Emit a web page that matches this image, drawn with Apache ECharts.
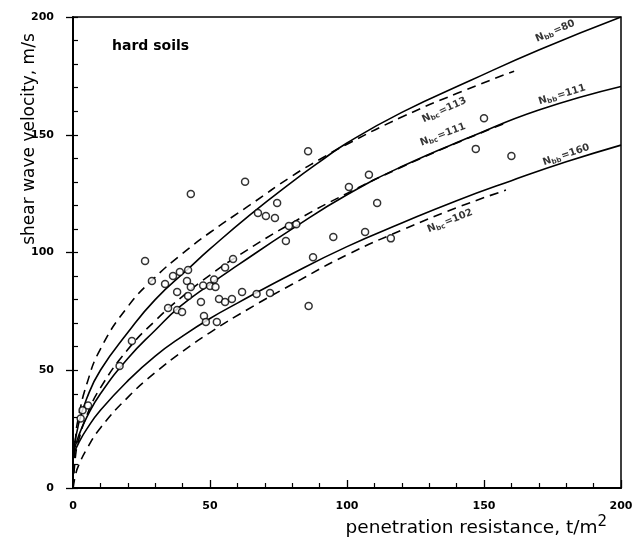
<!DOCTYPE html>
<html>
<head>
<meta charset="utf-8">
<script src="https://cdn.jsdelivr.net/npm/echarts@6/dist/echarts.min.js"></script>
<style>
  html, body { margin: 0; padding: 0; background: #fff; }
  #chart { width: 644px; height: 540px; }
</style>
</head>
<body>
<div id="chart"></div>
<script>
// Penetration resistance (t/m2) and shear wave velocity (m/s) along each curve
const qBb80  = [0, 2, 5, 10, 20, 30, 42, 50, 64.6, 80, 90, 100, 120, 145, 170, 200];
const vBb80  = [14, 27, 38, 50, 66, 80, 93, 101.5, 116, 130, 138.5, 146.5, 159.5, 173, 186, 200];
const qBb111 = [0, 2, 5, 10, 20, 30, 39, 50, 60, 80, 100, 120, 145, 170, 200];
const vBb111 = [14, 22, 30, 40, 55, 67, 77, 86.5, 94.5, 110, 124.5, 136.5, 149, 160.5, 170.5];
const qBb160 = [0, 2, 5, 10, 20, 30, 40, 50, 60, 80, 100, 120, 140, 160, 180, 200];
const vBb160 = [14, 19, 25, 33, 45.5, 56, 64.5, 72, 78.5, 91, 102.5, 112.5, 122, 130.5, 138.5, 145.6];

const qBc113 = [0, 1, 2, 5, 10, 20, 30, 39.6, 50, 64.6, 80, 90, 100, 120, 140, 161];
const vBc113 = [0, 22, 30, 44, 59, 77, 89.5, 99.2, 108.5, 120.2, 132.5, 139.5, 146, 157.5, 167.5, 177];
const qBc111 = [0, 1, 2, 5, 10, 20, 30, 40, 50, 60, 80, 100, 120, 140, 157];
const vBc111 = [0, 14.5, 20, 30.7, 42.5, 58.8, 71, 81.4, 90.4, 98.4, 112.6, 125.1, 136.3, 146.5, 154.6];
const qBc102 = [0, 1, 2, 5, 10, 20, 30, 40, 50, 63.4, 80, 100, 120, 140, 158];
const vBc102 = [0, 6, 9.5, 16.5, 25.5, 38.5, 49, 58, 66, 75.6, 86.5, 99, 109.5, 119, 126.5];

// Measured sites
const qObs = [21.5, 17, 3.5, 5.5, 2.8,
  26.3, 28.8, 33.6, 36.5, 39, 42, 41.6, 38, 43, 42, 46.7, 47.5, 50, 52, 51.5, 55.5, 58.4, 61.7, 53.3, 55.5, 58,
  34.7, 38, 39.8, 47.8, 48.5, 52.5,
  62.8, 43, 74.5, 67.5, 70.4, 73.7, 78.8, 81.5, 77.7, 67, 71.9, 86,
  85.8, 150, 147, 160, 100.7, 108, 111, 95, 106.6, 116, 87.6];
const vObs = [62.4, 51.8, 33, 35, 29.5,
  96.4, 87.9, 86.6, 90, 91.7, 92.6, 87.9, 83.2, 85.4, 81.5, 79, 86, 85.8, 85.4, 88.5, 93.6, 97.2, 83.2, 80.3, 79, 80.3,
  76.4, 75.6, 74.7, 73, 70.5, 70.5,
  130, 124.8, 121, 116.8, 115.5, 114.7, 111.3, 112, 104.9, 82.4, 82.8, 77.3,
  143, 157, 144, 141, 127.8, 133, 121, 106.6, 108.7, 106, 98];

// Curve annotations: N value, subscript, anchor (q, v)
const labelN   = ['80', '111', '160', '113', '111', '102'];
const labelSub = ['bb', 'bb', 'bb', 'bc', 'bc', 'bc'];
const labelQ   = [176, 178.5, 180, 135.5, 135, 137.6];
const labelV   = [194, 167, 141.4, 160.5, 150, 113.4];

// Axis ticks
const xTicks = [0, 50, 100, 150, 200];
const yTicks = [0, 50, 100, 150, 200];

const labelAngle = [23, 17, 19, 25, 21, 22];

const zip = (xs, ys) => xs.map((x, i) => [x, ys[i]]);

const chart = echarts.init(document.getElementById('chart'), null, { renderer: 'canvas' });

const solidStyle = { color: '#000', width: 1.6, type: 'solid' };
const dashStyle  = { color: '#000', width: 1.6, type: [9, 6] };

function curve(name, data, style) {
  return {
    name, type: 'line', data, smooth: 0.5,
    showSymbol: false, symbol: 'none', silent: true,
    lineStyle: style, z: 3
  };
}

const tickFont = { fontFamily: 'DejaVu Sans', fontWeight: 'bold', fontSize: 11, color: '#000' };

chart.setOption({
  animation: false,
  backgroundColor: '#fff',
  grid: {
    left: 73, top: 17, width: 548, height: 471,
    show: true, borderColor: '#000', borderWidth: 1.5, backgroundColor: 'transparent'
  },
  xAxis: {
    type: 'value', min: xTicks[0], max: xTicks[xTicks.length - 1], interval: 50,
    axisLine: { show: true, onZero: false, lineStyle: { color: '#000', width: 2 } },
    axisTick: { show: true, inside: true, length: 8, lineStyle: { color: '#000', width: 1.3 } },
    minorTick: { show: true, splitNumber: 5, length: 5, lineStyle: { color: '#000', width: 1.2 } },
    splitLine: { show: false },
    axisLabel: Object.assign({ margin: 13 }, tickFont)
  },
  yAxis: [
    {
      type: 'value', min: yTicks[0], max: yTicks[yTicks.length - 1], interval: 50,
      axisLine: { show: true, onZero: false, lineStyle: { color: '#000', width: 2 } },
      axisTick: { show: true, inside: false, length: 7, lineStyle: { color: '#000', width: 1.3 } },
      splitLine: { show: false },
      axisLabel: Object.assign({ margin: 19 }, tickFont)
    },
    {
      type: 'value', min: 0, max: 200, interval: 10, position: 'left',
      axisLine: { show: false },
      axisTick: { show: true, inside: true, length: 5, lineStyle: { color: '#000', width: 1.2 } },
      splitLine: { show: false },
      axisLabel: { show: false }
    }
  ],
  series: [
    curve('Nbb=80',  zip(qBb80, vBb80),   solidStyle),
    curve('Nbb=111', zip(qBb111, vBb111), solidStyle),
    curve('Nbb=160', zip(qBb160, vBb160), solidStyle),
    curve('Nbc=113', zip(qBc113, vBc113), dashStyle),
    curve('Nbc=111', zip(qBc111, vBc111), dashStyle),
    curve('Nbc=102', zip(qBc102, vBc102), dashStyle),
    {
      name: 'sites', type: 'scatter', data: zip(qObs, vObs),
      symbol: 'circle', symbolSize: 7, silent: true, z: 4,
      itemStyle: { color: '#fff', borderColor: '#000', borderWidth: 1.5 }
    },
    {
      name: 'curve labels', type: 'scatter', symbolSize: 0, silent: true, z: 5,
      data: labelQ.map((q, i) => ({
        value: [q, labelV[i]],
        label: {
          show: true, position: 'inside', rotate: labelAngle[i],
          formatter: '{n|N}{s|' + labelSub[i] + '}{n|=' + labelN[i] + '}',
          rich: {
            n: { fontFamily: 'DejaVu Sans', fontWeight: 'bold', fontSize: 10, color: '#000' },
            s: { fontFamily: 'DejaVu Sans', fontWeight: 'bold', fontSize: 7, color: '#000', padding: [5, 1, 0, 0] }
          }
        }
      }))
    }
  ],
  graphic: [
    {
      type: 'text', left: 112, top: 39, silent: true,
      style: { text: 'hard soils', font: 'bold 14px "DejaVu Sans"', fill: '#000' }
    },
    {
      type: 'text', x: 30, y: 139, rotation: Math.PI / 2, silent: true,
      style: { text: 'shear wave velocity, m/s', font: '17px "DejaVu Sans"', fill: '#000',
               align: 'center', verticalAlign: 'middle' }
    },
    {
      type: 'text', right: 37, top: 515, silent: true,
      style: {
        text: '{a|penetration resistance, t/m}{b|2}',
        rich: {
          a: { font: '18.5px "DejaVu Sans"', fill: '#000' },
          b: { font: '15px "DejaVu Sans"', fill: '#000', padding: [0, 0, 12, 0] }
        }
      }
    }
  ]
});
</script>
</body>
</html>
